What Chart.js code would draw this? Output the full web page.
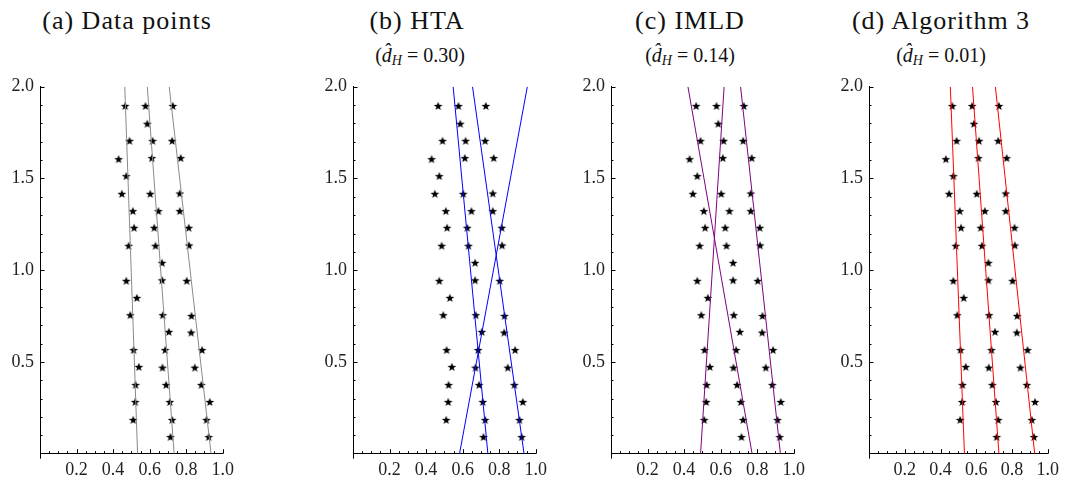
<!DOCTYPE html>
<html>
<head>
<meta charset="utf-8">
<script src="https://cdn.jsdelivr.net/npm/chart.js@4.4.1/dist/chart.umd.min.js"></script>
<style>
  html, body { margin: 0; padding: 0; background: #fff; }
  #wrap { position: relative; width: 1065px; height: 481px; overflow: hidden; background: #fff; }
  #wrap canvas { position: absolute; top: 60px; }
  .ttl { position: absolute; transform: translateX(-50%); white-space: nowrap;
         font-family: "Liberation Serif", serif; color: #111; }
  .main { top: 4px; font-size: 26px; line-height: 34px; letter-spacing: 1px; }
  .sub  { top: 42px; font-size: 20px; line-height: 26px; }
  .sub i { letter-spacing: 0; }
  .sub sub { font-size: 14px; vertical-align: -3px; }
</style>
</head>
<body>
<div id="wrap">
  <div class="ttl main" style="left:127px">(a) Data points</div>
  <div class="ttl main" style="left:417px">(b) HTA</div>
  <div class="ttl sub"  style="left:420px">(<i>d&#770;</i><sub><i>H</i></sub> = 0.30)</div>
  <div class="ttl main" style="left:690px">(c) IMLD</div>
  <div class="ttl sub"  style="left:690px">(<i>d&#770;</i><sub><i>H</i></sub> = 0.14)</div>
  <div class="ttl main" style="left:941px">(d) Algorithm 3</div>
  <div class="ttl sub"  style="left:941px">(<i>d&#770;</i><sub><i>H</i></sub> = 0.01)</div>

  <canvas id="c0" width="240" height="421" style="left:0px"></canvas>
  <canvas id="c1" width="240" height="421" style="left:313px"></canvas>
  <canvas id="c2" width="240" height="421" style="left:571px"></canvas>
  <canvas id="c3" width="236" height="421" style="left:829px"></canvas>
</div>

<script>
// ---- data points (same in all four panels) ----
const xs1 = [0.466, 0.490, 0.430, 0.472, 0.448, 0.508, 0.515, 0.485, 0.472, 0.530, 0.494, 0.512, 0.541, 0.523, 0.521, 0.510];
const ys1 = [1.895, 1.705, 1.605, 1.513, 1.416, 1.322, 1.231, 1.133, 0.942, 0.849, 0.755, 0.565, 0.473, 0.375, 0.282, 0.184];
const xs2 = [0.577, 0.587, 0.616, 0.612, 0.603, 0.648, 0.625, 0.632, 0.668, 0.668, 0.672, 0.705, 0.685, 0.670, 0.690, 0.710, 0.723, 0.714];
const ys2 = [1.895, 1.798, 1.705, 1.611, 1.416, 1.322, 1.231, 1.133, 1.040, 0.945, 0.755, 0.664, 0.565, 0.469, 0.375, 0.282, 0.184, 0.091];
const xs3 = [0.727, 0.723, 0.770, 0.765, 0.765, 0.814, 0.816, 0.803, 0.829, 0.827, 0.887, 0.847, 0.883, 0.929, 0.911, 0.923];
const ys3 = [1.895, 1.705, 1.611, 1.418, 1.322, 1.231, 1.135, 0.942, 0.751, 0.660, 0.565, 0.469, 0.375, 0.282, 0.184, 0.091];

// ---- fitted lines: x at y = 2 (top) and y = 0 (bottom) ----
const lineYs = [2, 0];
const trueLines = [[0.464, 0.534], [0.587, 0.734], [0.707, 0.936]];
const htaLines  = [[0.548, 0.738], [0.654, 0.936], [0.954, 0.583]];
const imldLines = [[0.421, 0.772], [0.619, 0.490], [0.709, 0.927]];
const alg3Lines = [[0.455, 0.534], [0.579, 0.727], [0.707, 0.927]];

// ---- ticks ----
const xTickLabels = [0.2, 0.4, 0.6, 0.8, 1.0];
const yTickLabels = [0.5, 1.0, 1.5, 2.0];
const xMinorTicks = [0.05, 0.1, 0.15, 0.25, 0.3, 0.35, 0.45, 0.5, 0.55, 0.65, 0.7, 0.75, 0.85, 0.9, 0.95];
const yMinorTicks = [0.1, 0.2, 0.3, 0.4, 0.6, 0.7, 0.8, 0.9, 1.1, 1.2, 1.3, 1.4, 1.6, 1.7, 1.8, 1.9];

(() => {
  /* ---------- star marker ---------- */
  const star = document.createElement("canvas");
  star.width = 10; star.height = 10;
  (function () {
    const g = star.getContext("2d");
    g.beginPath();
    for (let i = 0; i < 10; i++) {
      const r = (i % 2 === 0) ? 4.6 : 1.9;
      const a = -Math.PI / 2 + i * Math.PI / 5;
      const px = 5 + r * Math.cos(a), py = 5.3 + r * Math.sin(a);
      i === 0 ? g.moveTo(px, py) : g.lineTo(px, py);
    }
    g.closePath();
    g.fillStyle = "#000";
    g.fill();
  })();

  const zip = (xs, ys) => xs.map((x, i) => ({ x: x, y: ys[i] }));

  const pointSets = () => [zip(xs1, ys1), zip(xs2, ys2), zip(xs3, ys3)].map(d => ({
    data: d, pointStyle: star, pointRadius: 5, showLine: false, order: 2
  }));

  const lineSets = (lines, color) => lines.map(l => ({
    data: zip(l, lineYs), showLine: true, borderColor: color, borderWidth: 1,
    pointRadius: 0, order: 1
  }));

  // inward tick marks, Mathematica style
  const ticksPlugin = {
    id: "inTicks",
    afterDraw(chart) {
      const ctx = chart.ctx, sx = chart.scales.x, sy = chart.scales.y;
      const x0 = sx.getPixelForValue(0), y0 = sy.getPixelForValue(0);
      ctx.save();
      ctx.strokeStyle = "#000";
      ctx.lineWidth = 1;
      ctx.beginPath();
      xTickLabels.forEach(v => { const p = Math.round(sx.getPixelForValue(v)) + 0.5; ctx.moveTo(p, y0); ctx.lineTo(p, y0 - 4.5); });
      xMinorTicks.forEach(v => { const p = Math.round(sx.getPixelForValue(v)) + 0.5; ctx.moveTo(p, y0); ctx.lineTo(p, y0 - 2.5); });
      yTickLabels.forEach(v => { const p = Math.round(sy.getPixelForValue(v)) + 0.5; ctx.moveTo(x0, p); ctx.lineTo(x0 + 4.5, p); });
      yMinorTicks.forEach(v => { const p = Math.round(sy.getPixelForValue(v)) + 0.5; ctx.moveTo(x0, p); ctx.lineTo(x0 + 2.5, p); });
      // y axis pokes a little below the x axis
      const ax = Math.round(x0) + 0.5;
      ctx.moveTo(ax, y0); ctx.lineTo(ax, y0 + 5);
      ctx.stroke();
      ctx.restore();
    }
  };

  const tickFont = { family: "'Liberation Serif', serif", size: 18 };

  function makePanel(id, lines, color) {
    const cv = document.getElementById(id);
    new Chart(cv, {
      type: "scatter",
      data: { datasets: pointSets().concat(lineSets(lines, color)) },
      plugins: [ticksPlugin],
      options: {
        responsive: false,
        animation: false,
        devicePixelRatio: 1,
        layout: { padding: { left: 0, top: 26.7, right: cv.width - 223.3, bottom: 0 } },
        plugins: { legend: { display: false }, tooltip: { enabled: false } },
        scales: {
          x: {
            type: "linear", min: 0, max: 1,
            afterFit: s => { s.height = 27.3; },
            afterBuildTicks: s => { s.ticks = xTickLabels.map(v => ({ value: v })); },
            grid: { display: false, drawTicks: false },
            border: { display: true, color: "#000", width: 1 },
            ticks: { color: "#222", font: tickFont, padding: 6, maxRotation: 0,
                     callback: v => v.toFixed(1) }
          },
          y: {
            type: "linear", min: 0, max: 2,
            afterFit: s => { s.width = 40; },
            afterBuildTicks: s => { s.ticks = yTickLabels.map(v => ({ value: v })); },
            grid: { display: false, drawTicks: false },
            border: { display: true, color: "#000", width: 1 },
            ticks: { color: "#222", font: tickFont, padding: 6,
                     callback: v => v.toFixed(1) }
          }
        }
      }
    });
  }

  makePanel("c0", trueLines, "#8a8a8a");
  makePanel("c1", htaLines, "#0000ff");
  makePanel("c2", imldLines, "#800080");
  makePanel("c3", alg3Lines, "#ff0000");
})();
</script>
</body>
</html>
